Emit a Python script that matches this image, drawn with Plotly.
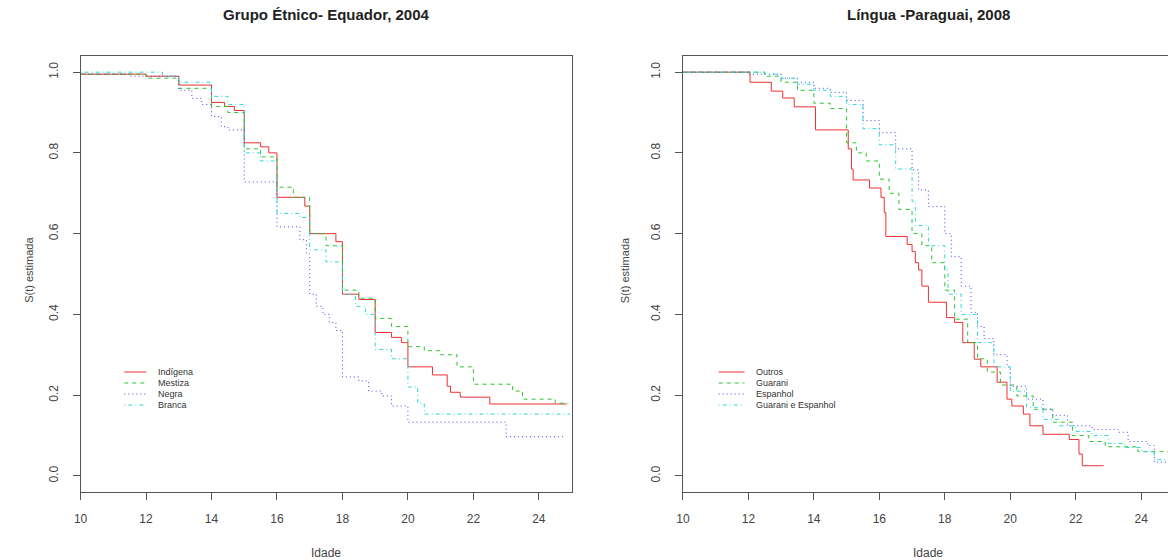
import plotly.graph_objects as go

# ---- Grupo Étnico - Equador, 2004 (Kaplan-Meier step curves) ----
ind_t = [10, 12, 13, 14, 14.4, 14.7, 15, 15.5, 15.75, 16, 16.85, 17, 17.8, 18, 18.5, 19, 19.5, 19.8, 20, 20.75, 21.2, 21.3, 21.6, 22.5, 24.85]
ind_s = [0.995, 0.99, 0.968, 0.925, 0.915, 0.905, 0.825, 0.815, 0.80, 0.69, 0.668, 0.60, 0.58, 0.45, 0.437, 0.355, 0.343, 0.33, 0.27, 0.25, 0.222, 0.207, 0.195, 0.178, 0.178]

mes_t = [10, 12, 13, 14, 14.5, 15, 15.5, 16, 16.5, 17, 17.5, 18, 18.5, 19, 19.5, 20, 20.5, 21, 21.5, 22, 23.2, 23.5, 24.5, 24.9]
mes_s = [0.995, 0.985, 0.96, 0.915, 0.90, 0.81, 0.79, 0.715, 0.69, 0.60, 0.57, 0.46, 0.44, 0.39, 0.37, 0.32, 0.31, 0.30, 0.27, 0.227, 0.21, 0.19, 0.18, 0.18]

neg_t = [10, 11.5, 13, 13.4, 13.7, 14, 14.3, 14.5, 15, 16, 16.7, 16.9, 17, 17.2, 17.4, 17.6, 17.8, 18, 18.5, 18.8, 19.2, 19.5, 20, 23, 24.8]
neg_s = [0.995, 0.99, 0.955, 0.935, 0.92, 0.89, 0.865, 0.857, 0.728, 0.617, 0.585, 0.55, 0.45, 0.42, 0.40, 0.38, 0.36, 0.245, 0.235, 0.21, 0.198, 0.173, 0.133, 0.097, 0.097]

bra_t = [10, 12.5, 13, 14, 14.5, 15, 15.5, 16, 16.7, 17, 17.5, 18, 18.4, 18.7, 19, 19.5, 20, 20.3, 20.5, 24.95]
bra_s = [1.0, 0.99, 0.975, 0.94, 0.92, 0.80, 0.78, 0.65, 0.64, 0.56, 0.53, 0.45, 0.42, 0.40, 0.313, 0.29, 0.22, 0.18, 0.153, 0.153]

# ---- Língua - Paraguai, 2008 ----
out_t = [10, 12.05, 12.7, 13.05, 13.4, 14.05, 15.05, 15.15, 15.2, 15.7, 16.05, 16.15, 16.2, 16.85, 17.0, 17.1, 17.2, 17.3, 17.5, 18.05, 18.3, 18.55, 18.9, 19.1, 19.6, 19.9, 20.05, 20.4, 20.6, 21.0, 21.8, 22.1, 22.2, 22.85]
out_s = [1.0, 0.975, 0.953, 0.936, 0.914, 0.857, 0.81, 0.76, 0.733, 0.713, 0.69, 0.652, 0.593, 0.573, 0.556, 0.528, 0.51, 0.47, 0.43, 0.392, 0.38, 0.33, 0.289, 0.27, 0.232, 0.19, 0.173, 0.153, 0.124, 0.103, 0.09, 0.054, 0.025, 0.025]

gua_t = [10, 12.5, 13, 13.5, 14, 14.5, 15, 15.3, 15.6, 16, 16.3, 16.6, 17, 17.3, 17.6, 18, 18.3, 18.7, 19, 19.3, 19.7, 20.2, 20.7, 21.3, 21.9, 22.4, 22.9, 23.9, 24.85]
gua_s = [1.0, 0.99, 0.975, 0.955, 0.923, 0.91, 0.825, 0.80, 0.78, 0.735, 0.70, 0.66, 0.60, 0.57, 0.528, 0.46, 0.388, 0.33, 0.29, 0.257, 0.225, 0.198, 0.165, 0.133, 0.10, 0.085, 0.072, 0.06, 0.055]

esp_t = [10, 12, 13, 13.5, 14, 14.5, 15, 15.5, 16, 16.5, 17, 17.2, 17.5, 18, 18.2, 18.5, 18.8, 19, 19.2, 19.5, 19.9, 20.0, 20.5, 21, 21.3, 21.75, 22.5, 23.3, 23.6, 24.2, 24.4, 24.85]
esp_s = [1.0, 0.995, 0.985, 0.975, 0.96, 0.95, 0.93, 0.88, 0.85, 0.81, 0.758, 0.708, 0.667, 0.60, 0.543, 0.47, 0.405, 0.37, 0.34, 0.30, 0.27, 0.222, 0.19, 0.165, 0.15, 0.124, 0.115, 0.108, 0.085, 0.075, 0.034, 0.034]

ge_t = [10, 12.5, 13, 13.5, 14, 14.5, 15, 15.5, 16, 16.5, 17, 17.1, 17.5, 18, 18.1, 18.5, 19, 19.5, 20, 20.5, 21, 21.5, 22, 22.5, 23, 23.5, 24, 24.4, 24.85]
ge_s = [1.0, 0.995, 0.985, 0.97, 0.955, 0.94, 0.92, 0.86, 0.82, 0.76, 0.68, 0.62, 0.57, 0.51, 0.45, 0.40, 0.33, 0.27, 0.21, 0.17, 0.14, 0.124, 0.11, 0.10, 0.08, 0.07, 0.06, 0.04, 0.04]

x_ticks = [10, 12, 14, 16, 18, 20, 22, 24]
y_ticks = [0.0, 0.2, 0.4, 0.6, 0.8, 1.0]
y_tick_text = ["0.0", "0.2", "0.4", "0.6", "0.8", "1.0"]

left_names = ["Indígena", "Mestiza", "Negra", "Branca"]
right_names = ["Outros", "Guarani", "Espanhol", "Guarani e Espanhol"]

RED, GREEN, BLUE, CYAN = "#EE3030", "#2CC42C", "#4545F0", "#2ED8D8"
DASH = ["solid", "4px,4px", "1px,3px", "1px,3px,4px,3px"]
COLORS = [RED, GREEN, BLUE, CYAN]

left_series = [(ind_t, ind_s), (mes_t, mes_s), (neg_t, neg_s), (bra_t, bra_s)]
right_series = [(out_t, out_s), (gua_t, gua_s), (esp_t, esp_s), (ge_t, ge_s)]

W, H = 1168, 560
FONT = "Liberation Sans, Arial, sans-serif"

fig = go.Figure()
for (t, s), name, col, dash in zip(left_series, left_names, COLORS, DASH):
    fig.add_trace(go.Scatter(x=t, y=s, mode="lines", line_shape="hv", name=name,
                             line=dict(color=col, width=1, dash=dash),
                             xaxis="x", yaxis="y", showlegend=False))
for (t, s), name, col, dash in zip(right_series, right_names, COLORS, DASH):
    fig.add_trace(go.Scatter(x=t, y=s, mode="lines", line_shape="hv", name=name,
                             line=dict(color=col, width=1, dash=dash),
                             xaxis="x2", yaxis="y2", showlegend=False))

# plot-region boxes in pixels
L_X0, L_X1 = 74, 568
R_X0 = 680
Y_TOP, Y_BOT = 56, 492

def px(x):
    return x / W

def py(y):
    return 1 - y / H

axis_common = dict(showgrid=False, zeroline=False, showline=True, linecolor="#555",
                   linewidth=1, ticks="outside", ticklen=7, tickcolor="#555",
                   tickfont=dict(family=FONT, size=12, color="#444"))

fig.update_layout(
    width=W, height=H, margin=dict(l=0, r=0, t=0, b=0),
    paper_bgcolor="white", plot_bgcolor="white",
    xaxis=dict(domain=[px(L_X0), px(L_X1)], range=[10, 25], tickvals=x_ticks,
               mirror=True, anchor="y", ticklabelstandoff=9, **axis_common),
    yaxis=dict(domain=[py(Y_BOT), py(Y_TOP)], range=[-0.04, 1.04], tickvals=y_ticks,
               ticktext=y_tick_text, tickangle=-90, mirror=True, anchor="x",
               ticklabelstandoff=10, **axis_common),
    xaxis2=dict(domain=[px(R_X0), 1.0], range=[10, 10 + (W - R_X0) / 32.93], tickvals=x_ticks,
                mirror=True, anchor="y2", ticklabelstandoff=9, **axis_common),
    yaxis2=dict(domain=[py(Y_BOT), py(Y_TOP)], range=[-0.04, 1.04], tickvals=y_ticks,
                ticktext=y_tick_text, tickangle=-90, mirror=False, anchor="x2",
                ticklabelstandoff=10, **axis_common),
)

annotations = []
# titles
for text, cx in [("Grupo Étnico- Equador, 2004", (L_X0 + L_X1) / 2),
                 ("Língua -Paraguai, 2008", (R_X0 + 1174) / 2)]:
    annotations.append(dict(text="<b>" + text + "</b>", x=px(cx), y=py(14), xref="paper", yref="paper",
                            showarrow=False, xanchor="center", yanchor="middle",
                            font=dict(family=FONT, size=15, color="#222")))
# axis titles
for cx in [(L_X0 + L_X1) / 2, (R_X0 + 1174) / 2]:
    annotations.append(dict(text="Idade", x=px(cx), y=py(553), xref="paper", yref="paper",
                            showarrow=False, xanchor="center", yanchor="middle",
                            font=dict(family=FONT, size=12, color="#444")))
for cx in [22, 622]:
    annotations.append(dict(text="S(t) estimada", x=px(cx), y=py(270), xref="paper",
                            yref="paper", showarrow=False, textangle=-90, xanchor="center",
                            yanchor="middle", font=dict(family=FONT, size=11, color="#444")))

# hand-placed legends in the lower-left of each panel
shapes = []
legend_rows = [372, 383, 394, 405]
for names, lx0, lx1, tx in [(left_names, 118, 140, 150), (right_names, 716, 742, 752)]:
    for name, col, dash, ry in zip(names, COLORS, DASH, legend_rows):
        shapes.append(dict(type="line", xref="paper", yref="paper", x0=px(lx0), x1=px(lx1),
                           y0=py(ry), y1=py(ry), line=dict(color=col, width=1, dash=dash)))
        annotations.append(dict(text=name, x=px(tx), y=py(ry), xref="paper", yref="paper",
                                showarrow=False, xanchor="left", yanchor="middle",
                                font=dict(family=FONT, size=9, color="#333")))

fig.update_layout(annotations=annotations, shapes=shapes)
fig.write_html("out.html")
